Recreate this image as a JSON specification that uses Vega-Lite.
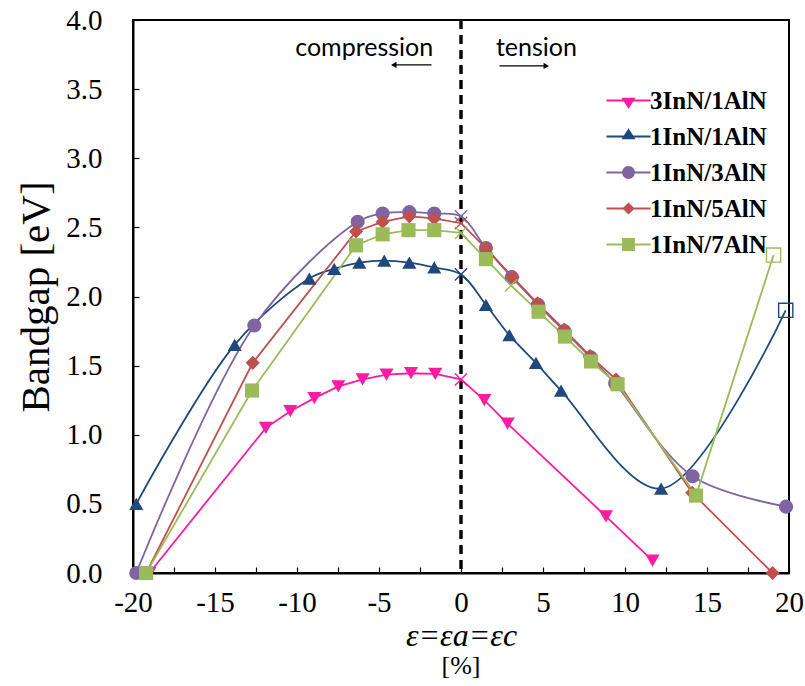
{
  "$schema": "https://vega.github.io/schema/vega-lite/v6.json",
  "width": 656,
  "height": 553,
  "autosize": {"type": "none"},
  "padding": {"left": 133, "top": 20, "right": 16, "bottom": 113},
  "background": "white",
  "config": {
    "view": {"stroke": "black", "strokeWidth": 2},
    "axis": {
      "grid": false,
      "domainColor": "black",
      "domainWidth": 2,
      "tickColor": "black",
      "tickWidth": 1.2,
      "labelFont": "Liberation Serif",
      "labelColor": "black",
      "titleFont": "Liberation Serif",
      "titleColor": "black",
      "titleFontWeight": "normal"
    },
    "title": {"font": "Times New Roman, Liberation Serif, serif", "fontWeight": "normal", "color": "black"}
  },
  "title": {
    "text": "[%]",
    "orient": "bottom",
    "anchor": "middle",
    "font": "Times New Roman, Liberation Serif, serif",
    "fontSize": 26,
    "fontWeight": "normal",
    "fontStyle": "normal",
    "color": "black",
    "offset": 2
  },
  "data": {
    "values": [
      {"series": "3InN/1AlN", "strain": -19.0, "gap": 0.0, "kind": "calc"},
      {"series": "3InN/1AlN", "strain": -11.9, "gap": 1.05, "kind": "calc"},
      {"series": "3InN/1AlN", "strain": -10.41, "gap": 1.17, "kind": "calc"},
      {"series": "3InN/1AlN", "strain": -8.94, "gap": 1.265, "kind": "calc"},
      {"series": "3InN/1AlN", "strain": -7.48, "gap": 1.35, "kind": "calc"},
      {"series": "3InN/1AlN", "strain": -6.0, "gap": 1.40, "kind": "calc"},
      {"series": "3InN/1AlN", "strain": -4.54, "gap": 1.435, "kind": "calc"},
      {"series": "3InN/1AlN", "strain": -3.05, "gap": 1.445, "kind": "calc"},
      {"series": "3InN/1AlN", "strain": -1.57, "gap": 1.44, "kind": "calc"},
      {"series": "3InN/1AlN", "strain": 0.0, "gap": 1.40, "kind": "ref"},
      {"series": "3InN/1AlN", "strain": 1.42, "gap": 1.25, "kind": "calc"},
      {"series": "3InN/1AlN", "strain": 2.84, "gap": 1.08, "kind": "calc"},
      {"series": "3InN/1AlN", "strain": 8.84, "gap": 0.41, "kind": "calc"},
      {"series": "3InN/1AlN", "strain": 11.68, "gap": 0.09, "kind": "calc"},

      {"series": "1InN/1AlN", "strain": -19.8, "gap": 0.50, "kind": "calc"},
      {"series": "1InN/1AlN", "strain": -13.8, "gap": 1.65, "kind": "calc"},
      {"series": "1InN/1AlN", "strain": -9.25, "gap": 2.13, "kind": "calc"},
      {"series": "1InN/1AlN", "strain": -7.73, "gap": 2.20, "kind": "calc"},
      {"series": "1InN/1AlN", "strain": -6.2, "gap": 2.245, "kind": "calc"},
      {"series": "1InN/1AlN", "strain": -4.68, "gap": 2.26, "kind": "calc"},
      {"series": "1InN/1AlN", "strain": -3.15, "gap": 2.245, "kind": "calc"},
      {"series": "1InN/1AlN", "strain": -1.63, "gap": 2.21, "kind": "calc"},
      {"series": "1InN/1AlN", "strain": 0.0, "gap": 2.16, "kind": "ref"},
      {"series": "1InN/1AlN", "strain": 1.52, "gap": 1.94, "kind": "calc"},
      {"series": "1InN/1AlN", "strain": 2.95, "gap": 1.72, "kind": "calc"},
      {"series": "1InN/1AlN", "strain": 4.57, "gap": 1.52, "kind": "calc"},
      {"series": "1InN/1AlN", "strain": 6.1, "gap": 1.32, "kind": "calc"},
      {"series": "1InN/1AlN", "strain": 12.2, "gap": 0.61, "kind": "calc"},
      {"series": "1InN/1AlN", "strain": 19.8, "gap": 1.90, "kind": "extra"},

      {"series": "1InN/3AlN", "strain": -19.8, "gap": 0.0, "kind": "calc"},
      {"series": "1InN/3AlN", "strain": -12.6, "gap": 1.79, "kind": "calc"},
      {"series": "1InN/3AlN", "strain": -6.3, "gap": 2.54, "kind": "calc"},
      {"series": "1InN/3AlN", "strain": -4.78, "gap": 2.60, "kind": "calc"},
      {"series": "1InN/3AlN", "strain": -3.15, "gap": 2.61, "kind": "calc"},
      {"series": "1InN/3AlN", "strain": -1.63, "gap": 2.60, "kind": "calc"},
      {"series": "1InN/3AlN", "strain": 0.0, "gap": 2.58, "kind": "ref"},
      {"series": "1InN/3AlN", "strain": 1.52, "gap": 2.35, "kind": "calc"},
      {"series": "1InN/3AlN", "strain": 3.1, "gap": 2.14, "kind": "calc"},
      {"series": "1InN/3AlN", "strain": 4.7, "gap": 1.94, "kind": "calc"},
      {"series": "1InN/3AlN", "strain": 6.3, "gap": 1.75, "kind": "calc"},
      {"series": "1InN/3AlN", "strain": 7.9, "gap": 1.56, "kind": "calc"},
      {"series": "1InN/3AlN", "strain": 9.4, "gap": 1.37, "kind": "calc"},
      {"series": "1InN/3AlN", "strain": 14.12, "gap": 0.70, "kind": "calc"},
      {"series": "1InN/3AlN", "strain": 19.82, "gap": 0.48, "kind": "calc"},

      {"series": "1InN/5AlN", "strain": -19.2, "gap": 0.0, "kind": "calc"},
      {"series": "1InN/5AlN", "strain": -12.7, "gap": 1.52, "kind": "calc"},
      {"series": "1InN/5AlN", "strain": -6.4, "gap": 2.47, "kind": "calc"},
      {"series": "1InN/5AlN", "strain": -4.78, "gap": 2.54, "kind": "calc"},
      {"series": "1InN/5AlN", "strain": -3.15, "gap": 2.58, "kind": "calc"},
      {"series": "1InN/5AlN", "strain": -1.63, "gap": 2.565, "kind": "calc"},
      {"series": "1InN/5AlN", "strain": 0.0, "gap": 2.53, "kind": "ref"},
      {"series": "1InN/5AlN", "strain": 1.52, "gap": 2.35, "kind": "calc"},
      {"series": "1InN/5AlN", "strain": 3.15, "gap": 2.14, "kind": "calc"},
      {"series": "1InN/5AlN", "strain": 4.67, "gap": 1.95, "kind": "calc"},
      {"series": "1InN/5AlN", "strain": 6.3, "gap": 1.76, "kind": "calc"},
      {"series": "1InN/5AlN", "strain": 7.86, "gap": 1.57, "kind": "calc"},
      {"series": "1InN/5AlN", "strain": 9.45, "gap": 1.40, "kind": "calc"},
      {"series": "1InN/5AlN", "strain": 14.1, "gap": 0.58, "kind": "calc"},
      {"series": "1InN/5AlN", "strain": 19.0, "gap": 0.0, "kind": "calc"},

      {"series": "1InN/7AlN", "strain": -19.2, "gap": 0.0, "kind": "calc"},
      {"series": "1InN/7AlN", "strain": -12.74, "gap": 1.32, "kind": "calc"},
      {"series": "1InN/7AlN", "strain": -6.4, "gap": 2.37, "kind": "calc"},
      {"series": "1InN/7AlN", "strain": -4.78, "gap": 2.45, "kind": "calc"},
      {"series": "1InN/7AlN", "strain": -3.2, "gap": 2.48, "kind": "calc"},
      {"series": "1InN/7AlN", "strain": -1.63, "gap": 2.48, "kind": "calc"},
      {"series": "1InN/7AlN", "strain": 0.0, "gap": 2.46, "kind": "ref"},
      {"series": "1InN/7AlN", "strain": 1.52, "gap": 2.27, "kind": "calc"},
      {"series": "1InN/7AlN", "strain": 3.05, "gap": 2.08, "kind": "ref"},
      {"series": "1InN/7AlN", "strain": 4.73, "gap": 1.89, "kind": "calc"},
      {"series": "1InN/7AlN", "strain": 6.34, "gap": 1.71, "kind": "calc"},
      {"series": "1InN/7AlN", "strain": 7.93, "gap": 1.53, "kind": "calc"},
      {"series": "1InN/7AlN", "strain": 9.55, "gap": 1.365, "kind": "calc"},
      {"series": "1InN/7AlN", "strain": 14.33, "gap": 0.56, "kind": "calc"},
      {"series": "1InN/7AlN", "strain": 19.06, "gap": 2.30, "kind": "extra"}
    ]
  },
  "layer": [
    {
      "data": {"values": [{}]},
      "mark": {"type": "rule", "color": "black", "strokeWidth": 3.4, "strokeDash": [9, 6]},
      "encoding": {"x": {"datum": 0}}
    },
    {
      "transform": [{"filter": "datum.series === '1InN/1AlN' || datum.series === '1InN/3AlN'"}],
      "mark": {"type": "line", "interpolate": "catmull-rom", "strokeWidth": 1.8},
      "encoding": {
        "x": {
          "field": "strain",
          "type": "quantitative",
          "scale": {"domain": [-20, 20], "nice": false, "zero": false},
          "axis": {
            "title": "ε=εa=εc",
            "titleFont": "Times New Roman, Liberation Serif, serif",
            "titleFontSize": 32,
            "titleFontStyle": "italic",
            "titlePadding": 3,
            "values": [-20, -17.5, -15, -12.5, -10, -7.5, -5, -2.5, 0, 2.5, 5, 7.5, 10, 12.5, 15, 17.5, 20],
            "labelExpr": "datum.value % 5 === 0 ? '' + datum.value : ''",
            "labelFontSize": 29,
            "labelPadding": 21,
            "labelFlush": false,
            "labelOverlap": false,
            "tickSize": -6
          }
        },
        "y": {
          "field": "gap",
          "type": "quantitative",
          "scale": {"domain": [0, 4], "nice": false},
          "axis": {
            "title": "Bandgap [eV]",
            "titleFontSize": 41,
            "titlePadding": 8,
            "values": [0, 0.5, 1, 1.5, 2, 2.5, 3, 3.5, 4],
            "format": ".1f",
            "labelFontSize": 29,
            "labelPadding": 37,
            "labelFlush": false,
            "labelOverlap": false,
            "tickSize": -6
          }
        },
        "color": {
          "field": "series",
          "type": "nominal",
          "scale": {
            "domain": ["3InN/1AlN", "1InN/1AlN", "1InN/3AlN", "1InN/5AlN", "1InN/7AlN"],
            "range": ["#FF1AA3", "#1F497D", "#8064A2", "#C0504D", "#9BBB59"]
          },
          "legend": null
        }
      }
    },
    {
      "transform": [{"filter": "datum.series !== '1InN/1AlN' && datum.series !== '1InN/3AlN'"}],
      "mark": {"type": "line", "interpolate": "linear", "strokeWidth": 1.8},
      "encoding": {
        "x": {"field": "strain", "type": "quantitative"},
        "y": {"field": "gap", "type": "quantitative"},
        "color": {"field": "series", "type": "nominal", "legend": null}
      }
    },
    {
      "transform": [{"filter": "datum.kind === 'calc'"}],
      "mark": {"type": "point", "filled": true, "opacity": 1},
      "encoding": {
        "x": {"field": "strain", "type": "quantitative"},
        "y": {"field": "gap", "type": "quantitative"},
        "color": {"field": "series", "type": "nominal", "legend": null},
        "shape": {
          "field": "series",
          "type": "nominal",
          "scale": {
            "domain": ["3InN/1AlN", "1InN/1AlN", "1InN/3AlN", "1InN/5AlN", "1InN/7AlN"],
            "range": ["triangle-down", "triangle-up", "circle", "diamond", "square"]
          },
          "legend": null
        },
        "size": {
          "field": "series",
          "type": "nominal",
          "scale": {
            "domain": ["3InN/1AlN", "1InN/1AlN", "1InN/3AlN", "1InN/5AlN", "1InN/7AlN"],
            "range": [200, 200, 170, 160, 200]
          },
          "legend": null
        }
      }
    },
    {
      "transform": [{"filter": "datum.kind === 'ref'"}],
      "mark": {"type": "point", "filled": false, "shape": "M-1,-1L1,1M-1,1L1,-1", "size": 150, "strokeWidth": 1.4, "opacity": 1},
      "encoding": {
        "x": {"field": "strain", "type": "quantitative"},
        "y": {"field": "gap", "type": "quantitative"},
        "color": {"field": "series", "type": "nominal", "legend": null}
      }
    },
    {
      "transform": [{"filter": "datum.kind === 'extra'"}],
      "mark": {"type": "point", "filled": false, "shape": "square", "size": 200, "strokeWidth": 1.4, "opacity": 1},
      "encoding": {
        "x": {"field": "strain", "type": "quantitative"},
        "y": {"field": "gap", "type": "quantitative"},
        "color": {"field": "series", "type": "nominal", "legend": null}
      }
    },
    {
      "transform": [{"filter": "datum.kind === 'calc'"}],
      "mark": {"type": "point", "filled": true, "opacity": 0},
      "encoding": {
        "x": {"field": "strain", "type": "quantitative"},
        "y": {"field": "gap", "type": "quantitative"},
        "color": {
          "field": "series",
          "type": "nominal",
          "legend": {
            "title": null,
            "orient": "none",
            "legendX": 483,
            "legendY": 68,
            "padding": 0,
            "symbolSize": 150,
            "symbolOpacity": 1,
            "labelFont": "Liberation Serif",
            "labelFontWeight": "bold",
            "labelFontSize": 25,
            "labelColor": "black",
            "labelOffset": 9,
            "rowPadding": 10
          }
        },
        "shape": {
          "field": "series",
          "type": "nominal",
          "scale": {
            "domain": ["3InN/1AlN", "1InN/1AlN", "1InN/3AlN", "1InN/5AlN", "1InN/7AlN"],
            "range": [
              "M-3.6,-0.16H3.6V0.16H-3.6Z M-1.15,-0.45L1.15,-0.45L0,1.35Z",
              "M-3.6,-0.16H3.6V0.16H-3.6Z M-1.15,0.45L0,-1.35L1.15,0.45Z",
              "M-3.6,-0.16H3.6V0.16H-3.6Z M1.05,0A1.05,1.05 0 1,1 -1.05,0A1.05,1.05 0 1,1 1.05,0Z",
              "M-3.6,-0.16H3.6V0.16H-3.6Z M0,-1L1,0L0,1L-1,0Z",
              "M-3.6,-0.16H3.6V0.16H-3.6Z M-1.05,-1.05H1.05V1.05H-1.05Z"
            ]
          },
          "legend": {
            "title": null,
            "orient": "none",
            "legendX": 483,
            "legendY": 68,
            "padding": 0,
            "symbolSize": 150,
            "symbolOpacity": 1,
            "labelFont": "Liberation Serif",
            "labelFontWeight": "bold",
            "labelFontSize": 25,
            "labelColor": "black",
            "labelOffset": 9,
            "rowPadding": 10
          }
        }
      }
    },
    {
      "data": {"values": [{}]},
      "mark": {"type": "text", "text": "compression", "font": "Lato", "fontSize": 25, "color": "black", "align": "center", "baseline": "middle"},
      "encoding": {"x": {"datum": -5.9}, "y": {"datum": 3.8}}
    },
    {
      "data": {"values": [{}]},
      "mark": {"type": "text", "text": "tension", "font": "Lato", "fontSize": 25, "color": "black", "align": "center", "baseline": "middle"},
      "encoding": {"x": {"datum": 4.6}, "y": {"datum": 3.8}}
    },
    {
      "data": {"values": [{}]},
      "mark": {"type": "rule", "color": "black", "strokeWidth": 1.3},
      "encoding": {"x": {"datum": -1.8}, "x2": {"datum": -4.0}, "y": {"datum": 3.675}}
    },
    {
      "data": {"values": [{}]},
      "mark": {"type": "point", "shape": "triangle-left", "filled": true, "color": "black", "size": 40, "opacity": 1},
      "encoding": {"x": {"datum": -4.1}, "y": {"datum": 3.675}}
    },
    {
      "data": {"values": [{}]},
      "mark": {"type": "rule", "color": "black", "strokeWidth": 1.3},
      "encoding": {"x": {"datum": 2.35}, "x2": {"datum": 5.1}, "y": {"datum": 3.668}}
    },
    {
      "data": {"values": [{}]},
      "mark": {"type": "point", "shape": "triangle-right", "filled": true, "color": "black", "size": 40, "opacity": 1},
      "encoding": {"x": {"datum": 5.2}, "y": {"datum": 3.668}}
    }
  ],
  "resolve": {
    "scale": {"shape": "independent", "size": "independent"},
    "legend": {"color": "independent", "shape": "independent"}
  }
}
